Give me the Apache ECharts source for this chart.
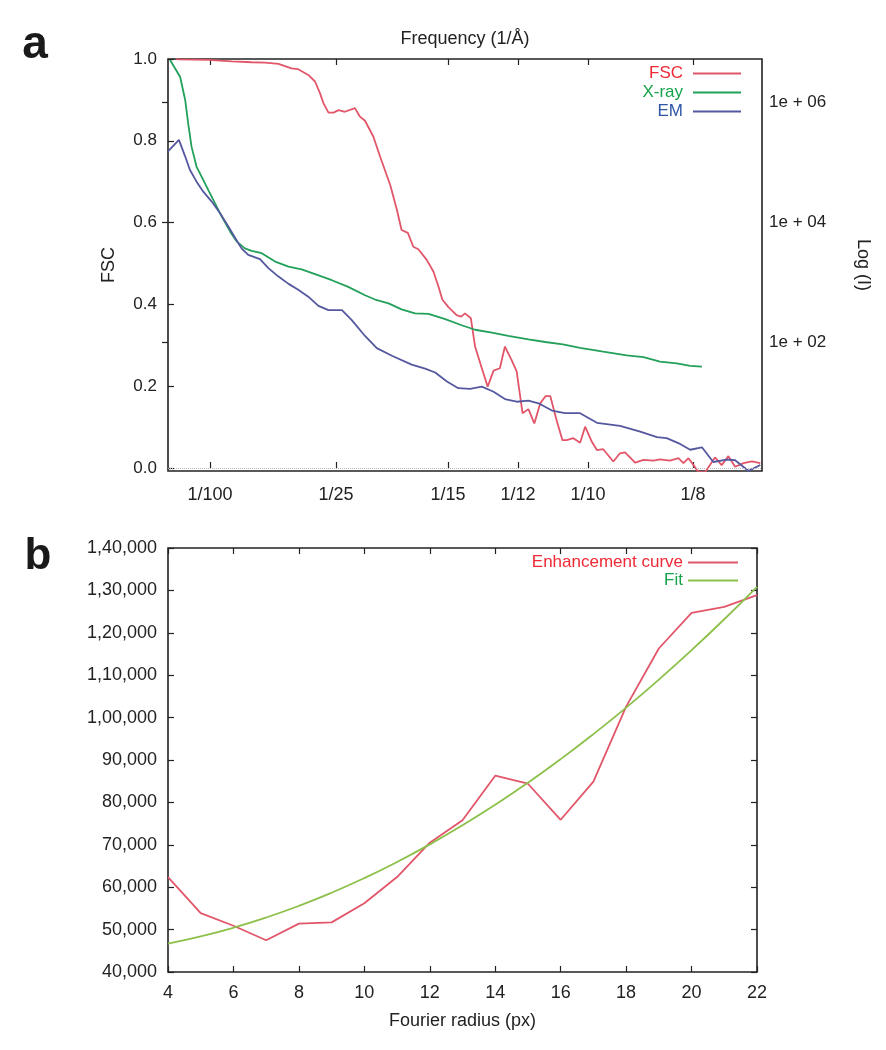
<!DOCTYPE html>
<html>
<head>
<meta charset="utf-8">
<script src="https://cdn.jsdelivr.net/npm/echarts@6/dist/echarts.min.js"></script>
<style>
html,body{margin:0;padding:0;background:#fff;}
#chart{width:886px;height:1050px;}
</style>
</head>
<body>
<div id="chart"></div>
<script>
// ---------- Panel a data ----------
const fscFreq = [0.002,0.0025,0.0096,0.0152,0.0199,0.0231,0.0263,0.0294,0.0310,0.0334,0.0350,0.0362,0.0370,0.0382,0.0394,0.0406,0.0421,0.0445,0.0457,0.0469,0.0489,0.0505,0.0529,0.0545,0.0556,0.0571,0.0584,0.0596,0.0616,0.0632,0.0644,0.0653,0.0667,0.0687,0.0698,0.0707,0.0721,0.0731,0.0747,0.0761,0.0775,0.0790,0.0802,0.0818,0.0830,0.0844,0.0858,0.0872,0.0886,0.0899,0.0910,0.0925,0.0939,0.0949,0.0965,0.0981,0.0993,0.1009,0.1021,0.1036,0.1060,0.1076,0.1088,0.1112,0.1132,0.1156,0.1171,0.1195,0.1215,0.1227,0.1239,0.1251,0.1263,0.1279,0.1302,0.1318,0.1334,0.1350,0.1370,0.1390,0.1410];
const fscValue = [1.000,0.999,0.998,0.994,0.992,0.991,0.988,0.977,0.975,0.961,0.945,0.916,0.892,0.869,0.869,0.875,0.871,0.880,0.859,0.849,0.810,0.761,0.692,0.631,0.582,0.575,0.541,0.535,0.509,0.480,0.443,0.412,0.394,0.374,0.370,0.378,0.366,0.297,0.244,0.199,0.238,0.244,0.297,0.264,0.236,0.134,0.144,0.109,0.158,0.176,0.176,0.117,0.068,0.068,0.073,0.062,0.101,0.064,0.044,0.046,0.016,0.036,0.038,0.013,0.020,0.018,0.021,0.018,0.024,0.012,0.024,0.007,-0.010,-0.010,0.026,0.007,0.029,0.003,0.012,0.016,0.012];

const xrayFreq = [0.0005,0.0029,0.0041,0.0048,0.0056,0.0068,0.0080,0.0096,0.0112,0.0128,0.0148,0.0164,0.0183,0.0199,0.0223,0.0255,0.0287,0.0318,0.0350,0.0390,0.0429,0.0469,0.0493,0.0525,0.0556,0.0588,0.0620,0.0660,0.0699,0.0731,0.0771,0.0810,0.0858,0.0898,0.0940,0.0981,0.1036,0.1092,0.1132,0.1171,0.1211,0.1243,0.1271];
const xrayI = [5.0e6,2.6e6,1.07e6,4.4e5,1.8e5,8.3e4,5.7e4,3.4e4,2.04e4,1.23e4,6900,4700,3630,3310,3020,2190,1800,1620,1350,1070,830,600,510,440,350,300,295,240,190,160,143,126,111,100,91,80,69,60,56,47,44,40,39];

const emFreq = [0.0000,0.0026,0.0041,0.0052,0.0068,0.0084,0.0104,0.0124,0.0144,0.0160,0.0175,0.0191,0.0219,0.0239,0.0263,0.0287,0.0310,0.0334,0.0358,0.0382,0.0414,0.0437,0.0469,0.0497,0.0533,0.0580,0.0612,0.0636,0.0664,0.0691,0.0719,0.0747,0.0775,0.0802,0.0830,0.0858,0.0882,0.0914,0.0945,0.0981,0.1021,0.1076,0.1124,0.1164,0.1187,0.1219,0.1243,0.1271,0.1298,0.1330,0.1350,0.1382,0.1410];
const emI = [1.5e5,2.34e5,1.23e5,7.4e4,4.7e4,3.2e4,2.19e4,1.40e4,8300,5400,3630,2820,2400,1700,1230,930,740,570,400,340,340,234,126,79,59,42,36,31,22,17,16.6,18,14.8,11.2,10.1,10.5,9.5,7.2,6.5,6.5,4.5,4.0,3.2,2.6,2.5,2.0,1.6,1.76,1.0,1.1,1.07,0.71,0.89];

const freqTickValues = [1/100, 1/25, 1/15, 1/12, 1/10, 1/8];
const freqTickLabels = ['1/100','1/25','1/15','1/12','1/10','1/8'];
const fscTicks = [0, 0.2, 0.4, 0.6, 0.8, 1.0];
const logTicks = [1e2, 1e4, 1e6];

// ---------- Panel b data ----------
const radius = [4,5,6,7,8,9,10,11,12,13,14,15,16,17,18,19,20,21,22];
const enhancement = [62400,53900,50900,47500,51400,51700,56200,62400,70500,75800,86300,84400,75900,84900,102600,116300,124700,126100,128900];
const fitValues = [46700,48400,50450,52850,55600,58700,62150,65950,70100,74600,79450,84650,90200,96100,102350,108950,115900,123200,130850];

// ---------- helpers ----------
const pair = (xs, ys) => xs.map((x, i) => [x, ys[i]]);
function indian(n){
  const s = String(Math.round(n));
  const last3 = s.slice(-3);
  const rest = s.slice(0, -3);
  if (!rest) return last3;
  return rest.replace(/\B(?=(\d{2})+(?!\d))/g, ',') + ',' + last3;
}
function freqLabel(v){
  for (let i = 0; i < freqTickValues.length; i++) {
    if (Math.abs(v - freqTickValues[i]) < 1e-6) return freqTickLabels[i];
  }
  return '';
}
function logLabel(v){
  const e = Math.round(Math.log10(v));
  return '1e + ' + (e < 10 ? '0' + e : e);
}

const FONT = '"Liberation Sans", Arial, sans-serif';
const TXT = '#222';
const RED = '#e2566a', GREEN = '#23a05a', BLUE = '#55589f', FIT = '#8cc04a';

const tickIn = () => ({show:true, inside:true, length:6, lineStyle:{color:'#222', width:1.2}});

const chart = echarts.init(document.getElementById('chart'));
const option = {
  animation: false,
  backgroundColor: '#fff',
  textStyle: {fontFamily: FONT},
  graphic: [
    {type:'text', x:35, y:45, style:{text:'a', font:'bold 46px ' + FONT, fill:'#1a1a1a', align:'center', verticalAlign:'middle'}},
    {type:'text', x:38, y:557, style:{text:'b', font:'bold 44px ' + FONT, fill:'#1a1a1a', align:'center', verticalAlign:'middle'}}
  ],
  grid: [
    {left:168, top:59, width:594, height:412, show:true, borderColor:'#222', borderWidth:1.6, backgroundColor:'transparent'},
    {left:168, top:548, width:589, height:424, show:true, borderColor:'#222', borderWidth:1.6, backgroundColor:'transparent'}
  ],
  legend: [
    {
      orient:'vertical', right:140, top:60, align:'right', itemGap:2,
      icon:'rect', itemWidth:48, itemHeight:2,
      textStyle:{fontSize:17, fontFamily:FONT, padding:[0,5,0,0]},
      data:[
        {name:'FSC', textStyle:{color:'#ee2a36'}},
        {name:'X-ray', textStyle:{color:'#15a34a'}},
        {name:'EM', textStyle:{color:'#2e55a6'}}
      ]
    },
    {
      orient:'vertical', right:143, top:549, align:'right', itemGap:1,
      icon:'rect', itemWidth:50, itemHeight:2,
      textStyle:{fontSize:17, fontFamily:FONT, padding:[0,0,0,0]},
      data:[
        {name:'Enhancement curve', textStyle:{color:'#ee2a36'}},
        {name:'Fit', textStyle:{color:'#15a34a'}}
      ]
    }
  ],
  xAxis: [
    {
      type:'value', gridIndex:0, position:'bottom', min:0, max:0.1414,
      axisLine:{show:false}, splitLine:{show:false},
      axisTick:Object.assign(tickIn(), {customValues:freqTickValues}),
      axisLabel:{customValues:freqTickValues, formatter:freqLabel, fontSize:18, color:TXT, margin:15, fontFamily:FONT}
    },
    {
      type:'value', gridIndex:0, position:'top', min:0, max:0.1414,
      name:'Frequency (1/Å)', nameLocation:'middle', nameGap:11,
      nameTextStyle:{fontSize:18, color:TXT, fontFamily:FONT},
      axisLine:{show:false}, splitLine:{show:false},
      axisTick:Object.assign(tickIn(), {customValues:freqTickValues}),
      axisLabel:{show:false}
    },
    {
      type:'value', gridIndex:1, position:'bottom', min:4, max:22, interval:2,
      name:'Fourier radius (px)', nameLocation:'middle', nameGap:40,
      nameTextStyle:{fontSize:18, color:TXT, fontFamily:FONT},
      axisLine:{show:false}, splitLine:{show:false},
      axisTick:tickIn(),
      axisLabel:{fontSize:18, color:TXT, margin:12, fontFamily:FONT}
    },
    {
      type:'value', gridIndex:1, position:'top', min:4, max:22, interval:2,
      axisLine:{show:false}, splitLine:{show:false},
      axisTick:tickIn(), axisLabel:{show:false}
    }
  ],
  yAxis: [
    {
      type:'value', gridIndex:0, position:'left', min:-0.0073, max:1.0,
      name:'FSC', nameLocation:'middle', nameGap:50, nameRotate:90,
      nameTextStyle:{fontSize:18, color:TXT, fontFamily:FONT},
      axisLine:{show:false}, splitLine:{show:false},
      axisTick:Object.assign(tickIn(), {customValues:fscTicks}),
      axisLabel:{customValues:fscTicks, formatter:v => v.toFixed(1), fontSize:17, color:TXT, margin:11, fontFamily:FONT}
    },
    {
      type:'log', logBase:10, gridIndex:0, position:'right', min:0.708, max:5.2e6,
      name:'Log (I)', nameLocation:'middle', nameGap:92, nameRotate:-90,
      nameTextStyle:{fontSize:18, color:TXT, fontFamily:FONT},
      axisLine:{show:false}, splitLine:{show:false},
      axisTick:Object.assign(tickIn(), {customValues:logTicks}),
      axisLabel:{customValues:logTicks, formatter:logLabel, fontSize:17, color:TXT, margin:7, fontFamily:FONT}
    },
    {
      type:'value', gridIndex:1, position:'left', min:40000, max:140000, interval:10000,
      axisLine:{show:false}, splitLine:{show:false},
      axisTick:tickIn(),
      axisLabel:{formatter:indian, fontSize:18, color:TXT, margin:11, fontFamily:FONT}
    },
    {
      type:'value', gridIndex:1, position:'right', min:40000, max:140000, interval:10000,
      axisLine:{show:false}, splitLine:{show:false},
      axisTick:tickIn(), axisLabel:{show:false}
    }
  ],
  series: [
    {
      name:'FSC', type:'line', xAxisIndex:0, yAxisIndex:0, data:pair(fscFreq, fscValue),
      color:RED, showSymbol:false, symbol:'none', lineStyle:{width:1.8, color:RED}, clip:true,
      markLine:{silent:true, symbol:'none', label:{show:false}, lineStyle:{type:'dotted', color:'#b8b8b8', width:1}, data:[{yAxis:0}]}
    },
    {
      name:'X-ray', type:'line', xAxisIndex:0, yAxisIndex:1, data:pair(xrayFreq, xrayI),
      color:GREEN, showSymbol:false, symbol:'none', lineStyle:{width:1.8, color:GREEN}, clip:true
    },
    {
      name:'EM', type:'line', xAxisIndex:0, yAxisIndex:1, data:pair(emFreq, emI),
      color:BLUE, showSymbol:false, symbol:'none', lineStyle:{width:1.8, color:BLUE}, clip:true
    },
    {
      name:'Enhancement curve', type:'line', xAxisIndex:2, yAxisIndex:2, data:pair(radius, enhancement),
      color:RED, showSymbol:false, symbol:'none', lineStyle:{width:1.8, color:RED}, clip:true
    },
    {
      name:'Fit', type:'line', xAxisIndex:2, yAxisIndex:2, data:pair(radius, fitValues), smooth:true,
      color:FIT, showSymbol:false, symbol:'none', lineStyle:{width:1.8, color:FIT}, clip:true
    }
  ]
};
chart.setOption(option);
</script>
</body>
</html>
